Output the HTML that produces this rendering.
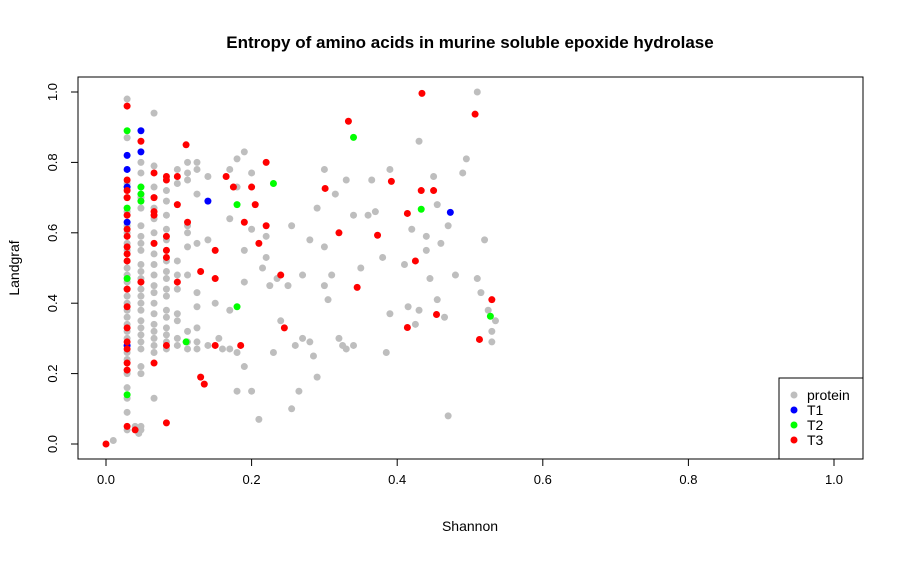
<!DOCTYPE html>
<html><head><meta charset="utf-8"><style>
body{margin:0;background:#fff;}
svg text{font-family:"Liberation Sans",Arial,sans-serif;}
</style></head><body>
<svg id="chart" width="904" height="556" xmlns="http://www.w3.org/2000/svg">
<rect width="904" height="556" fill="#fff"/>
<text x="470" y="48" font-size="17" font-weight="bold" text-anchor="middle">Entropy of amino acids in murine soluble epoxide hydrolase</text>
<rect x="78" y="77" width="785" height="382" fill="none" stroke="#000" stroke-width="1"/>
<text x="470" y="531" font-size="14" text-anchor="middle">Shannon</text>
<text transform="translate(19,268) rotate(-90)" font-size="14" text-anchor="middle">Landgraf</text>
<g id="axes"></g>
<g id="points"></g>
<g>
<rect x="779" y="378" width="84" height="81" fill="#fff" stroke="#000"/>
<circle cx="794" cy="395" r="3.5" fill="#bebebe"/><text x="807" y="400" font-size="14">protein</text>
<circle cx="794" cy="410" r="3.5" fill="#0000ff"/><text x="807" y="415" font-size="14">T1</text>
<circle cx="794" cy="425" r="3.5" fill="#00ff00"/><text x="807" y="430" font-size="14">T2</text>
<circle cx="794" cy="440" r="3.5" fill="#ff0000"/><text x="807" y="445" font-size="14">T3</text>
</g>
</svg>
<script>
const xTicks=[0,0.2,0.4,0.6,0.8,1.0];
const yTicks=[0,0.2,0.4,0.6,0.8,1.0];
const colX=[0.029,0.048,0.066,0.083,0.098,0.112,0.125];
const colY=[
[0.98,0.87,0.74,0.70,0.66,0.62,0.60,0.57,0.55,0.52,0.50,0.48,0.46,0.44,0.42,0.40,0.38,0.36,0.34,0.32,0.30,0.28,0.26,0.24,0.20,0.16,0.13,0.09,0.04],
[0.80,0.77,0.73,0.70,0.67,0.62,0.59,0.57,0.55,0.51,0.49,0.47,0.44,0.42,0.40,0.38,0.35,0.33,0.31,0.29,0.27,0.22,0.20,0.05,0.04],
[0.94,0.79,0.73,0.70,0.67,0.64,0.60,0.57,0.54,0.51,0.48,0.45,0.43,0.40,0.37,0.34,0.32,0.30,0.28,0.26,0.13],
[0.72,0.69,0.65,0.61,0.58,0.55,0.52,0.49,0.47,0.44,0.42,0.38,0.36,0.33,0.31,0.29,0.27],
[0.78,0.74,0.52,0.48,0.44,0.37,0.35,0.30,0.28],
[0.80,0.77,0.75,0.62,0.60,0.56,0.48,0.32,0.29,0.27],
[0.80,0.78,0.71,0.57,0.43,0.39,0.33,0.29,0.27]];
const proteinPts=[[0.14,0.76],[0.14,0.58],[0.14,0.28],[0.15,0.40],[0.155,0.30],[0.16,0.27],[0.17,0.78],[0.17,0.64],[0.17,0.38],[0.17,0.27],[0.18,0.81],[0.18,0.73],[0.18,0.26],[0.18,0.15],[0.19,0.83],[0.19,0.55],[0.19,0.46],[0.19,0.22],[0.2,0.77],[0.2,0.61],[0.2,0.15],[0.21,0.07],[0.215,0.50],[0.22,0.59],[0.22,0.53],[0.225,0.45],[0.23,0.26],[0.235,0.47],[0.24,0.35],[0.25,0.45],[0.255,0.62],[0.255,0.10],[0.26,0.28],[0.265,0.15],[0.27,0.48],[0.27,0.30],[0.28,0.29],[0.28,0.58],[0.285,0.25],[0.29,0.67],[0.29,0.19],[0.3,0.78],[0.3,0.56],[0.3,0.45],[0.305,0.41],[0.31,0.48],[0.315,0.71],[0.32,0.30],[0.325,0.28],[0.33,0.75],[0.33,0.27],[0.34,0.65],[0.34,0.28],[0.35,0.50],[0.36,0.65],[0.365,0.75],[0.37,0.66],[0.38,0.53],[0.385,0.26],[0.39,0.78],[0.39,0.37],[0.41,0.51],[0.415,0.39],[0.42,0.61],[0.425,0.34],[0.43,0.86],[0.43,0.38],[0.44,0.59],[0.44,0.55],[0.445,0.47],[0.45,0.76],[0.455,0.68],[0.455,0.41],[0.46,0.57],[0.465,0.36],[0.47,0.62],[0.47,0.08],[0.48,0.48],[0.49,0.77],[0.495,0.81],[0.51,1.0],[0.51,0.47],[0.515,0.43],[0.52,0.58],[0.525,0.38],[0.53,0.32],[0.53,0.29],[0.535,0.35],[0.01,0.01],[0.04,0.05],[0.045,0.03]];
const t1Pts=[[0.048,0.89],[0.048,0.83],[0.029,0.82],[0.029,0.78],[0.029,0.63],[0.029,0.28],[0.14,0.69],[0.473,0.658],[0.029,0.73]];
const t2Pts=[[0.029,0.89],[0.048,0.73],[0.048,0.71],[0.048,0.69],[0.029,0.67],[0.029,0.47],[0.029,0.14],[0.11,0.29],[0.18,0.68],[0.18,0.39],[0.23,0.74],[0.34,0.871],[0.433,0.667],[0.528,0.363]];
const t3Pts=[[0.029,0.96],[0.048,0.86],[0.11,0.85],[0.066,0.77],[0.083,0.76],[0.083,0.75],[0.098,0.76],[0.029,0.75],[0.029,0.72],[0.029,0.70],[0.066,0.70],[0.066,0.66],[0.066,0.65],[0.098,0.68],[0.112,0.63],[0.029,0.65],[0.029,0.61],[0.029,0.59],[0.029,0.56],[0.029,0.54],[0.029,0.52],[0.029,0.44],[0.029,0.39],[0.029,0.33],[0.029,0.29],[0.029,0.27],[0.029,0.23],[0.029,0.21],[0.029,0.05],[0.048,0.46],[0.066,0.57],[0.066,0.23],[0.083,0.59],[0.083,0.55],[0.083,0.53],[0.083,0.28],[0.083,0.06],[0.098,0.46],[0.0,0.0],[0.04,0.04],[0.13,0.49],[0.15,0.55],[0.15,0.47],[0.165,0.76],[0.175,0.73],[0.185,0.28],[0.19,0.63],[0.2,0.73],[0.205,0.68],[0.21,0.57],[0.22,0.80],[0.22,0.62],[0.24,0.48],[0.245,0.33],[0.135,0.17],[0.13,0.19],[0.15,0.28],[0.434,0.996],[0.333,0.917],[0.507,0.937],[0.301,0.726],[0.392,0.746],[0.433,0.72],[0.45,0.72],[0.414,0.655],[0.32,0.60],[0.373,0.593],[0.425,0.52],[0.345,0.445],[0.53,0.41],[0.454,0.368],[0.414,0.331],[0.513,0.297]];
const NS="http://www.w3.org/2000/svg";
function sx(v){return 106+v*728;}
function sy(v){return 444-v*352;}
const axes=document.getElementById('axes');
const pts=document.getElementById('points');
function mk(tag,attrs,parent){const e=document.createElementNS(NS,tag);for(const k in attrs)e.setAttribute(k,attrs[k]);parent.appendChild(e);return e;}
const xl=mk('line',{x1:sx(0),x2:sx(1),y1:459,y2:459,stroke:'#000'},axes);


xTicks.forEach(t=>{
 const tk=mk('line',{x1:sx(t),x2:sx(t),y1:459,y2:466,stroke:'#000'},axes);
 
 
 const tx=mk('text',{x:sx(t),y:484,'font-size':13,'text-anchor':'middle'},axes);
 tx.textContent=t.toFixed(1);
 
 
});
const yl=mk('line',{x1:78,x2:78,y1:sy(0),y2:sy(1),stroke:'#000'},axes);


yTicks.forEach(t=>{
 const tk=mk('line',{x1:71,x2:78,y1:sy(t),y2:sy(t),stroke:'#000'},axes);
 
 
 const tx=mk('text',{transform:`translate(57,${sy(t)}) rotate(-90)`,'font-size':13,'text-anchor':'middle'},axes);
 tx.textContent=t.toFixed(1);
 
 
});
function dot(x,y,c,name){
 const d=mk('circle',{cx:sx(x),cy:sy(y),r:3.5,fill:c},pts);
 
 
}
colX.forEach((x,i)=>colY[i].forEach(y=>dot(x,y,'#bebebe','protein-point')));
proteinPts.forEach(p=>dot(p[0],p[1],'#bebebe','protein-point'));
t1Pts.forEach(p=>dot(p[0],p[1],'#0000ff','t1-point'));
t2Pts.forEach(p=>dot(p[0],p[1],'#00ff00','t2-point'));
t3Pts.forEach(p=>dot(p[0],p[1],'#ff0000','t3-point'));
</script>
</body></html>
